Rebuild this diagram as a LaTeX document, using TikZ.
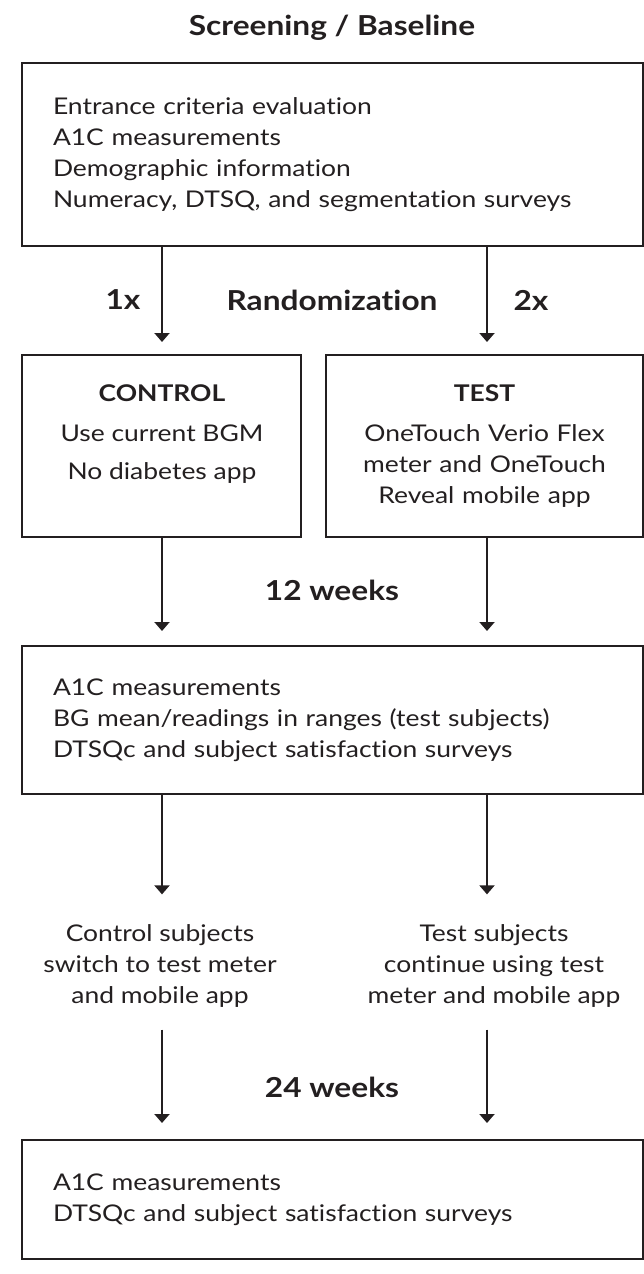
\documentclass[tikz,border=0pt]{standalone}
\usepackage{fontspec}
\setmainfont{Lato}[FakeStretch=1.15, Ligatures=NoCommon]
\usepackage{tikz}
\usepackage{xcolor}
\usetikzlibrary{arrows.meta, calc, positioning}
\definecolor{ink}{RGB}{35,31,32}

\begin{document}
\begin{tikzpicture}[x=1pt, y=-1pt,
    box/.style={draw=ink, line width=2pt, rectangle, inner xsep=31pt, inner ysep=0pt, minimum width=621pt},
    body/.style={text=ink, font=\fontsize{23}{31}\selectfont, align=left},
    head/.style={text=ink, font=\fontsize{27.5}{31}\selectfont\bfseries, inner sep=0pt},
    flow/.style={draw=ink, line width=2pt, -{Triangle[width=15pt, length=9pt]}}]
                        \useasboundingbox (0,0) rectangle (644,1274);
                        % columns of the arrows
                        \coordinate (lcol) at (162,0);
                        \coordinate (rcol) at (487,0);
                        \node[head] (title) at (332,28) {Screening / Baseline};
                        \node[box, body, text width=559pt, minimum height=183pt] (screen) at (332.5,154.5) {Entrance criteria evaluation\\A1C measurements\\Demographic information\\Numeracy, DTSQ, and segmentation surveys};
                        \node[head] (ratio1) at (123,300) {1x};
                        \node[head] (rand) at (332,300) {Randomization};
                        \node[head] (ratio2) at (531,300) {2x};
                        \node[box, minimum width=279pt, minimum height=182pt] (ctl) at (161.5,446) {};
                        \node[body, align=center, inner sep=0pt] (ctltxt) at (162,434) {\textbf{CONTROL}\\[9pt]Use current BGM\\[7pt]No diabetes app};
                        \node[box, body, align=center, text width=255pt, minimum width=317pt, minimum height=182pt] (tst) at (484.5,446) {\textbf{TEST}\\[9pt]OneTouch Verio Flex\\meter and OneTouch\\Reveal mobile app};
                        \node[head] (wk12) at (332,590) {12 weeks};
                        \node[box, body, text width=559pt, minimum height=148pt] (mid) at (332.5,720) {A1C measurements\\BG mean/readings in ranges (test subjects)\\DTSQc and subject satisfaction surveys};
                        \node[body, align=center, inner sep=0pt] (ctlsw) at (160,966) {Control subjects\\switch to test meter\\and mobile app};
                        \node[body, align=center, inner sep=0pt] (tstsw) at (494,966) {Test subjects\\continue using test\\meter and mobile app};
                        \node[head] (wk24) at (332,1087) {24 weeks};
                        \node[box, body, text width=559pt, minimum height=119pt] (fin) at (332.5,1199.5) {A1C measurements\\DTSQc and subject satisfaction surveys};
                        \draw
                        (screen.south -| lcol) edge[flow, shorten >=12pt] (ctl.north -| lcol)
                        (screen.south -| rcol) edge[flow, shorten >=12pt] (tst.north -| rcol)
                        (ctl.south -| lcol) edge[flow, shorten >=14pt] (mid.north -| lcol)
                        (tst.south -| rcol) edge[flow, shorten >=14pt] (mid.north -| rcol)
                        (mid.south -| lcol) edge[flow, shorten >=30pt] (ctlsw.north -| lcol)
                        (mid.south -| rcol) edge[flow, shorten >=30pt] (tstsw.north -| rcol)
                        (ctlsw.south -| lcol) edge[flow, shorten <=22pt, shorten >=16pt] (fin.north -| lcol)
                        (tstsw.south -| rcol) edge[flow, shorten <=22pt, shorten >=16pt] (fin.north -| rcol);
                    \end{tikzpicture}
\end{document}
